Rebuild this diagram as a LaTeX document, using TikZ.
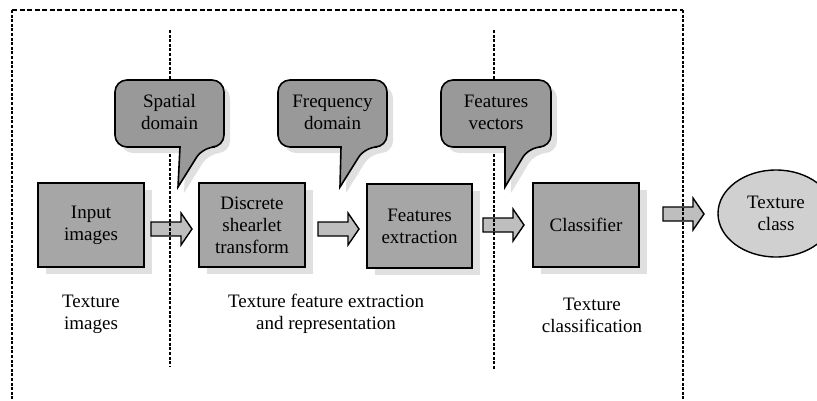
\documentclass[tikz,border=0pt]{standalone}
\usepackage{fontspec}
\setmainfont{Liberation Serif}
\usetikzlibrary{shadows,shapes.geometric}
\definecolor{boxgray}{RGB}{166,166,166}
\definecolor{callgray}{RGB}{153,153,153}
\definecolor{arrowgray}{RGB}{190,190,190}
\definecolor{ellgray}{RGB}{208,208,208}
\definecolor{shadegray}{RGB}{224,224,224}
\begin{document}
\begin{tikzpicture}[x=1pt,y=-1pt,
  txt/.style={align=center,font=\fontsize{19}{22}\selectfont,inner sep=0pt},
  stagebox/.style={txt,draw,line width=1.4pt,fill=boxgray,minimum width=106pt,minimum height=84pt,
    drop shadow={shadow xshift=8pt,shadow yshift=-7pt,fill=shadegray,opacity=1}},
  blockarrow/.style={draw,line width=1.4pt,fill=arrowgray,line join=miter},
  callshape/.style={draw,line width=1.6pt,fill=callgray},
  callshade/.style={fill=shadegray},
  divider/.style={line width=2pt,dash pattern=on 3pt off 1.6pt},
  border/.style={line width=2.4pt,dash pattern=on 3pt off 1.6pt},
  topborder/.style={line width=1.8pt,dash pattern=on 5pt off 2.5pt}
]
\useasboundingbox (0,0) rectangle (817,400);
\clip (0,0) rectangle (817,400);

% boxes
\node[stagebox] (input) at (91,225) {Input\\images};
\node[stagebox] (dst) at (252,225) {Discrete\\shearlet\\transform};
\node[stagebox,minimum width=105pt] (feat) at (419.5,226) {Features\\extraction};
\node[stagebox] (clf) at (586,225) {Classifier};
\node[txt,draw,line width=1.4pt,fill=ellgray,ellipse,minimum width=116pt,minimum height=87pt] (cls) at (776,213.5) {Texture\\class};

% block arrows
\foreach \cx/\cy in {171.5/229, 338.5/229, 503.5/225, 683.5/214}{
  \draw[blockarrow] (\cx-20.5,\cy-7) -- (\cx+9.5,\cy-7) -- (\cx+9.5,\cy-16) -- (\cx+20.5,\cy)
    -- (\cx+9.5,\cy+16) -- (\cx+9.5,\cy+7) -- (\cx-20.5,\cy+7) -- cycle;
}

% stage labels
\node[txt] (lab1) at (91,314) {Texture\\images};
\node[txt] (lab2) at (326,314) {Texture feature extraction\\and representation};
\node[txt] (lab3) at (592,315) {Texture\\classification};

% dividers
\coordinate (v1t) at (170,30);
\coordinate (v1b) at (170,367);
\coordinate (v2t) at (494,30);
\coordinate (v2b) at (494,369);
\draw[divider] (v1t) -- (v1b);
\draw[divider] (v2t) -- (v2b);

% callouts
\foreach \l/\r/\tl/\tr/\tx in {115/224/180/203/178, 278/387/341/365/340, 441/551/505/529/505}{
  \fill[callshade,shift={(6,6)}] (\tl,147) [rounded corners=12] -- (\l,147) -- (\l,80) -- (\r,80)
    -- (\r,147) -- (\tr,147) [sharp corners] -- (\tx,187) -- cycle;
  \draw[callshape] (\tl,147) [rounded corners=12] -- (\l,147) -- (\l,80) -- (\r,80)
    -- (\r,147) -- (\tr,147) [sharp corners] -- (\tx,187) -- cycle;
}
\node[txt] (c1) at (169.5,112) {Spatial\\domain};
\node[txt] (c2) at (332.5,112) {Frequency\\domain};
\node[txt] (c3) at (496,112) {Features\\vectors};

% outer border
\coordinate (bl) at (12,404);
\coordinate (tl) at (12,10);
\coordinate (tr) at (683,10);
\coordinate (br) at (683,404);
\draw[border] (bl) -- (tl);
\draw[topborder] (tl) -- (tr);
\draw[border,line width=2.6pt] (tr) -- (br);
\end{tikzpicture}
\end{document}
